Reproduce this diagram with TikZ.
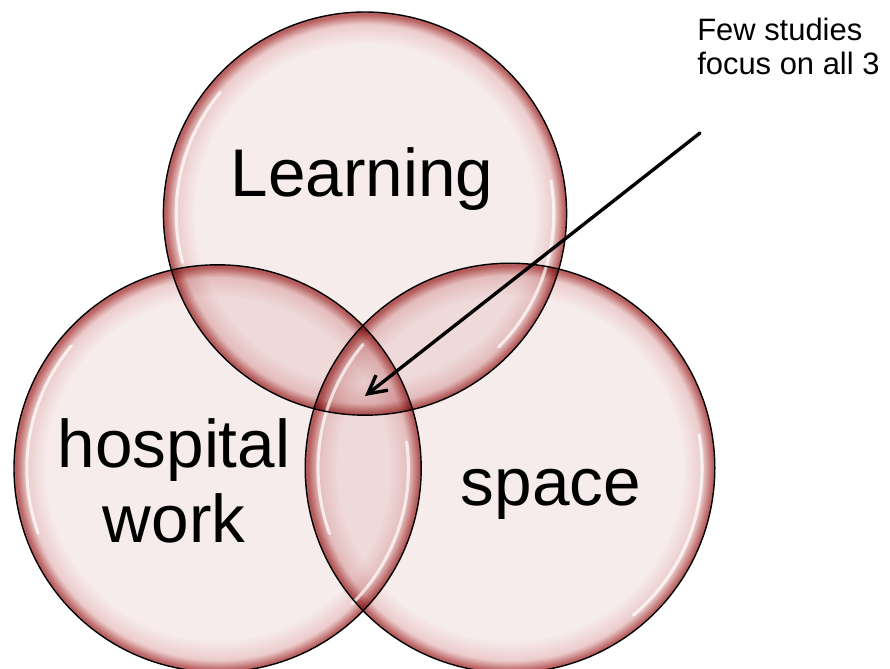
\documentclass[tikz,border=0pt]{standalone}
\usepackage{fontspec}
\setmainfont{Liberation Sans}
\usetikzlibrary{calc,arrows.meta}
\definecolor{glassin}{RGB}{247,236,236}
\definecolor{glassmid}{RGB}{236,204,204}
\definecolor{glassrim}{RGB}{186,98,98}
\pgfdeclareradialshading{glass}{\pgfpointorigin}{color(0bp)=(glassin); color(21bp)=(glassin); color(23.5bp)=(glassmid); color(24.7bp)=(glassrim); color(25bp)=(glassrim); color(50bp)=(glassrim)}
\def\shinearc[#1](#2)(#3:#4:#5){\draw[#1] ($(#2)+({#5*cos(#3)},{#5*sin(#3)})$) arc (#3:#4:#5);}

\begin{document}
\begin{tikzpicture}
			%%%%% START %%%%%
			\useasboundingbox (0, 0) rectangle (22.25, 16.7);
			
			\coordinate (top) at (9.125, 11.36);
			\coordinate (left) at (5.44, 4.99);
			\coordinate (right) at (12.75, 5.0);
			
			\begin{scope}[blend group=multiply]
				\shade[shading=glass] (top) circle (5.04);
				\shade[shading=glass] (left) circle (5.09);
				\shade[shading=glass] (right) circle (5.12);
			\end{scope}
			
			\shinearc[line width=2.2pt, color=white, opacity=0.7, line cap=round](top)(140:195:4.72)
			\shinearc[line width=2.2pt, color=white, opacity=0.7, line cap=round](top)(10:-45:4.72)
			\shinearc[line width=2.2pt, color=white, opacity=0.7, line cap=round](left)(140:200:4.77)
			\shinearc[line width=2.2pt, color=white, opacity=0.7, line cap=round](left)(8:-45:4.77)
			\shinearc[line width=2.2pt, color=white, opacity=0.7, line cap=round](right)(140:200:4.8)
			\shinearc[line width=2.2pt, color=white, opacity=0.7, line cap=round](right)(10:-50:4.8)
			
			\draw[line width=1pt] (top) circle (5.04);
			\draw[line width=1pt] (left) circle (5.09);
			\draw[line width=1pt] (right) circle (5.12);
			
			\node[anchor=base, font=\fontsize{48}{53}\selectfont] (learning) at (9.05, 11.775) {Learning};
			\node[align=center, font=\fontsize{48}{53}\selectfont] (hospital) at (4.35, 4.675) {hospital\\work};
			\node[anchor=base, font=\fontsize{48}{53}\selectfont] (space) at (13.775, 4.075) {space};
			
			\node[anchor=base west, inner sep=0, align=left, font=\fontsize{22}{24.8}\selectfont] (note) at (17.425, 14.825) {Few studies\\focus on all 3};
			
			\coordinate (tail) at (17.5, 13.375);
			\coordinate (core) at (9.125, 6.8);
			\draw[line width=2.4pt, line cap=round, -{Straight Barb[length=4.5mm, width=4.8mm]}] (tail) -- (core);
			%%%%% END %%%%%
\end{tikzpicture}
\end{document}
